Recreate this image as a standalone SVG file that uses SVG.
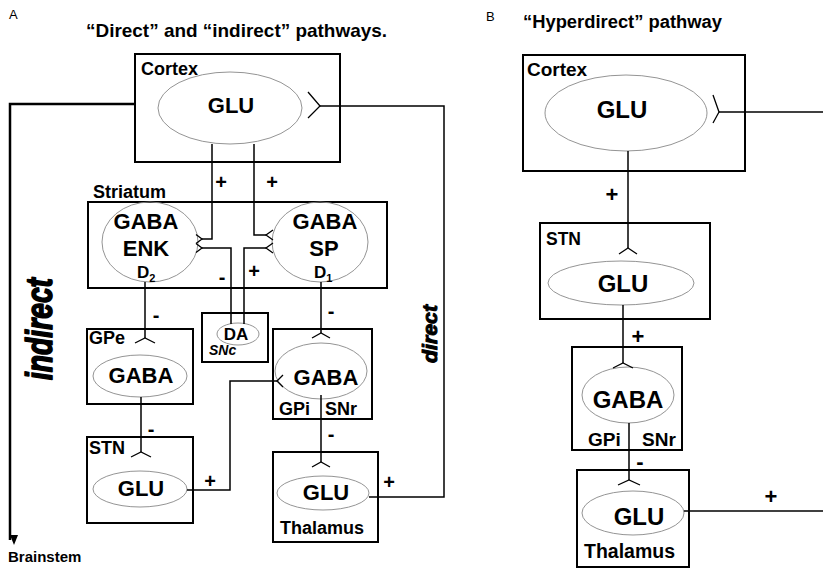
<svg xmlns="http://www.w3.org/2000/svg" width="823" height="568" viewBox="0 0 823 568">
<style>
text{font-family:"Liberation Sans",Arial,sans-serif;font-weight:bold;fill:#000}
.box{fill:none;stroke:#000;stroke-width:2}
.ell{fill:none;stroke:#888;stroke-width:0.9}
.ln{fill:none;stroke:#000;stroke-width:1.5}
.fk{fill:none;stroke:#000;stroke-width:1.3}
.lab{font-size:18px}
.big{font-size:22px;text-anchor:middle}
.bigR{font-size:24px;text-anchor:middle}
.sg{font-size:20px;text-anchor:middle}
.sgR{font-size:22px;text-anchor:middle}
.pl{font-weight:normal;font-size:13px}
.rot{font-style:italic;stroke:#000;stroke-linejoin:round}
</style>
<defs>
<marker id="arr" markerWidth="10" markerHeight="10" refX="5" refY="9" orient="auto" markerUnits="userSpaceOnUse">
<path d="M1,0 L9,0 L5,10 Z" fill="#000" transform="rotate(-90 5 5)"/>
</marker>
</defs>
<rect width="823" height="568" fill="#fff"/>

<!-- Panel titles -->
<text class="pl" x="9" y="19">A</text>
<text x="86" y="37" font-size="18.5" textLength="301" lengthAdjust="spacingAndGlyphs">“Direct” and “indirect” pathways.</text>
<text class="pl" x="486" y="21">B</text>
<text x="523" y="28" font-size="18" textLength="199" lengthAdjust="spacingAndGlyphs">“Hyperdirect” pathway</text>

<!-- Panel A nodes -->
<g id="A-cortex">
<rect class="box" x="135" y="54" width="205" height="108"/>
<text class="lab" x="141" y="75">Cortex</text>
<ellipse class="ell" cx="230" cy="108" rx="72" ry="36"/>
<text class="big" x="231" y="113">GLU</text>
</g>
<g id="A-striatum">
<rect class="box" x="88" y="202" width="299" height="86"/>
<text class="lab" x="93" y="198">Striatum</text>
<ellipse class="ell" cx="150" cy="242" rx="48" ry="40"/>
<text class="big" x="146" y="229">GABA</text>
<text class="big" x="146" y="256">ENK</text>
<text x="137" y="278" font-size="17">D<tspan font-size="11" dy="4">2</tspan></text>
<ellipse class="ell" cx="320" cy="242" rx="48" ry="40"/>
<text class="big" x="325" y="229">GABA</text>
<text class="big" x="324" y="256">SP</text>
<text x="314" y="278" font-size="17">D<tspan font-size="11" dy="4">1</tspan></text>
</g>
<g id="A-snc">
<rect class="box" x="202" y="313" width="66" height="49"/>
<ellipse class="ell" cx="238" cy="334" rx="21" ry="11"/>
<text x="236" y="340" font-size="17" text-anchor="middle">DA</text>
<text x="209" y="355" font-size="14" font-style="italic">SNc</text>
</g>
<g id="A-gpe">
<rect class="box" x="87" y="329" width="106" height="75"/>
<text class="lab" x="89" y="344">GPe</text>
<ellipse class="ell" cx="140" cy="376" rx="47" ry="21"/>
<text class="big" x="141" y="383">GABA</text>
</g>
<g id="A-stn">
<rect class="box" x="87" y="437" width="106" height="86"/>
<text class="lab" x="89" y="454">STN</text>
<ellipse class="ell" cx="140" cy="489" rx="47" ry="18"/>
<text class="big" x="141" y="496">GLU</text>
</g>
<g id="A-gpi">
<rect class="box" x="273" y="329" width="99" height="90"/>
<ellipse class="ell" cx="321" cy="371" rx="46" ry="28"/>
<text class="big" x="326" y="385">GABA</text>
<text class="lab" x="279" y="415">GPi</text>
<text class="lab" x="325" y="415">SNr</text>
</g>
<g id="A-thalamus">
<rect class="box" x="273" y="452" width="105" height="90"/>
<ellipse class="ell" cx="323" cy="493" rx="46" ry="17"/>
<text class="big" x="326" y="500">GLU</text>
<text class="lab" x="280" y="534">Thalamus</text>
</g>
<g id="A-brainstem">
<text x="8" y="562" font-size="15">Brainstem</text>
</g>
<g id="A-pathway-labels">
<text class="rot" transform="translate(52,380) rotate(-90)" font-size="36" stroke-width="1.6" textLength="102" lengthAdjust="spacingAndGlyphs">indirect</text>
<text class="rot" transform="translate(437,363) rotate(-90)" font-size="21" stroke-width="1" textLength="58" lengthAdjust="spacingAndGlyphs">direct</text>
</g>

<!-- Panel B nodes -->
<g id="B-cortex">
<rect class="box" x="523" y="55" width="222" height="116"/>
<text x="527" y="76" font-size="19">Cortex</text>
<ellipse class="ell" cx="626" cy="113" rx="81" ry="38"/>
<text class="bigR" x="622" y="118">GLU</text>
</g>
<g id="B-stn">
<rect class="box" x="540" y="223" width="170" height="96"/>
<text x="546" y="245" font-size="17.5">STN</text>
<ellipse class="ell" cx="621" cy="283" rx="73" ry="22"/>
<text class="bigR" x="623" y="292">GLU</text>
</g>
<g id="B-gpi">
<rect class="box" x="572" y="347" width="110" height="103"/>
<ellipse class="ell" cx="628" cy="395" rx="46" ry="28"/>
<text class="bigR" x="628" y="408">GABA</text>
<text x="588" y="446" font-size="19">GPi</text>
<text x="642" y="446" font-size="19">SNr</text>
</g>
<g id="B-thalamus">
<rect class="box" x="577" y="470" width="112" height="97"/>
<ellipse class="ell" cx="633" cy="513" rx="51" ry="22"/>
<text class="bigR" x="639" y="525">GLU</text>
<text x="584" y="558" font-size="19.5">Thalamus</text>
</g>

<!-- Connectors -->
<g id="connectors">
<!-- Panel A -->
<path d="M135,104 H10 V540" fill="none" stroke="#000" stroke-width="2.5" marker-end="url(#arr)"/>
<path class="ln" d="M320,106 H444 V497 H369"/>
<path class="fk" d="M308,92 L320,106 L308,118"/>
<path class="ln" d="M212,144 V239 H202"/>
<path class="fk" d="M196,234.5 L202,239 L196,243.5"/>
<path class="ln" d="M254,144 V235 H266"/>
<path class="fk" d="M273,230 L266,235 L273,240"/>
<path class="ln" d="M231,324 V248 H202"/>
<path class="fk" d="M196,243.5 L202,248 L196,252.5"/>
<path class="ln" d="M244,324 V248 H266"/>
<path class="fk" d="M273,243 L266,248 L273,253"/>
<path class="ln" d="M145,282 V338"/>
<path class="fk" d="M135,343 L145,338 L155,343"/>
<path class="ln" d="M141,397 V452"/>
<path class="fk" d="M131,457 L141,452 L151,457"/>
<path class="ln" d="M187,490 H230 V381 H277"/>
<path class="fk" d="M283,375 L277,381 L283,387"/>
<path class="ln" d="M321,282 V333"/>
<path class="fk" d="M312,338 L321,333 L330,338"/>
<path class="ln" d="M321,395 V462"/>
<path class="fk" d="M312,467 L321,462 L330,467"/>
<!-- Panel B -->
<path class="ln" d="M719,112 H823"/>
<path class="fk" d="M713,95 L719,112 L713,123"/>
<path class="ln" d="M628,151 V248"/>
<path class="fk" d="M619,254 L628,248 L637,254"/>
<path class="ln" d="M623,305 V363"/>
<path class="fk" d="M613,368 L623,363 L633,368"/>
<path class="ln" d="M629,423 V480"/>
<path class="fk" d="M618,485 L629,480 L640,485"/>
<path class="ln" d="M684,511 H823"/>
</g>

<!-- Signs -->
<g id="signs">
<text class="sg" x="221" y="189">+</text>
<text class="sg" x="272" y="189">+</text>
<text class="sg" x="222" y="284">-</text>
<text class="sg" x="254" y="278">+</text>
<text class="sg" x="156" y="322">-</text>
<text class="sg" x="331" y="318">-</text>
<text class="sg" x="151" y="436">-</text>
<text class="sg" x="210" y="488">+</text>
<text class="sg" x="331" y="441">-</text>
<text class="sg" x="389" y="489">+</text>
<text class="sgR" x="612" y="202">+</text>
<text class="sgR" x="638" y="344">+</text>
<text class="sgR" x="640" y="469">-</text>
<text class="sgR" x="771" y="504">+</text>
</g>
</svg>
